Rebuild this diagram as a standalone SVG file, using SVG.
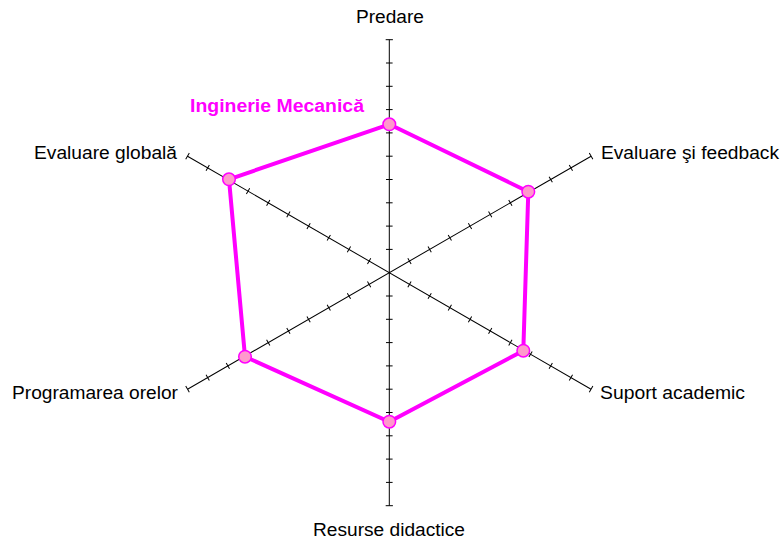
<svg xmlns="http://www.w3.org/2000/svg" width="782" height="539" viewBox="0 0 782 539">
  <style>
    .axis { fill: none; stroke: #000; stroke-width: 1; }
    .lbl { font-family: "Liberation Sans", Arial, sans-serif; font-size: 17.5px; fill: #000; }
    .title { font-family: "Liberation Sans", Arial, sans-serif; font-size: 18px; font-weight: bold; fill: #FF00FF; }
    .series { fill: none; stroke: #FF00FF; stroke-width: 4; stroke-linejoin: miter; }
    .pt { fill: #FF99CC; stroke: #FF00FF; stroke-width: 1.5; }
  </style>
  <defs>
    <!-- one axis through the centre, ten ticks each side -->
    <path id="axis" class="axis" d="M-233 0H233
      M23.3 -3.3V3.3 M46.6 -3.3V3.3 M69.9 -3.3V3.3 M93.2 -3.3V3.3 M116.5 -3.3V3.3
      M139.8 -3.3V3.3 M163.1 -3.3V3.3 M186.4 -3.3V3.3 M209.7 -3.3V3.3 M233 -3.6V3.6
      M-23.3 -3.3V3.3 M-46.6 -3.3V3.3 M-69.9 -3.3V3.3 M-93.2 -3.3V3.3 M-116.5 -3.3V3.3
      M-139.8 -3.3V3.3 M-163.1 -3.3V3.3 M-186.4 -3.3V3.3 M-209.7 -3.3V3.3 M-233 -3.6V3.6"/>
  </defs>

  <rect width="782" height="539" fill="#fff"/>

  <g id="axes">
    <use href="#axis" transform="translate(389.3,272.7) rotate(90)"/>
    <use href="#axis" transform="translate(389.3,272.7) rotate(-30)"/>
    <use href="#axis" transform="translate(389.3,272.7) rotate(30)"/>
  </g>

  <g id="labels">
    <text class="lbl" x="356" y="22.5" textLength="68" lengthAdjust="spacingAndGlyphs">Predare</text>
    <text class="lbl" x="601" y="159" textLength="178" lengthAdjust="spacingAndGlyphs">Evaluare şi feedback</text>
    <text class="lbl" x="600" y="398.5" textLength="145" lengthAdjust="spacingAndGlyphs">Suport academic</text>
    <text class="lbl" x="313" y="535.5" textLength="152" lengthAdjust="spacingAndGlyphs">Resurse didactice</text>
    <text class="lbl" x="12" y="398.5" textLength="166" lengthAdjust="spacingAndGlyphs">Programarea orelor</text>
    <text class="lbl" x="34" y="159" textLength="143" lengthAdjust="spacingAndGlyphs">Evaluare globală</text>
  </g>

  <g id="series-inginerie-mecanica">
    <text class="title" x="190" y="111.5" textLength="174" lengthAdjust="spacingAndGlyphs">Inginerie Mecanică</text>
    <polygon class="series" points="389.3,124.3 528.3,191.7 523.3,350.7 389.3,421.7 245,356.7 229,179.3"/>
    <circle class="pt" cx="389.3" cy="124.3" r="6.3"/>
    <circle class="pt" cx="528.3" cy="191.7" r="6.3"/>
    <circle class="pt" cx="523.3" cy="350.7" r="6.3"/>
    <circle class="pt" cx="389.3" cy="421.7" r="6.3"/>
    <circle class="pt" cx="245" cy="356.7" r="6.3"/>
    <circle class="pt" cx="229" cy="179.3" r="6.3"/>
  </g>
</svg>
